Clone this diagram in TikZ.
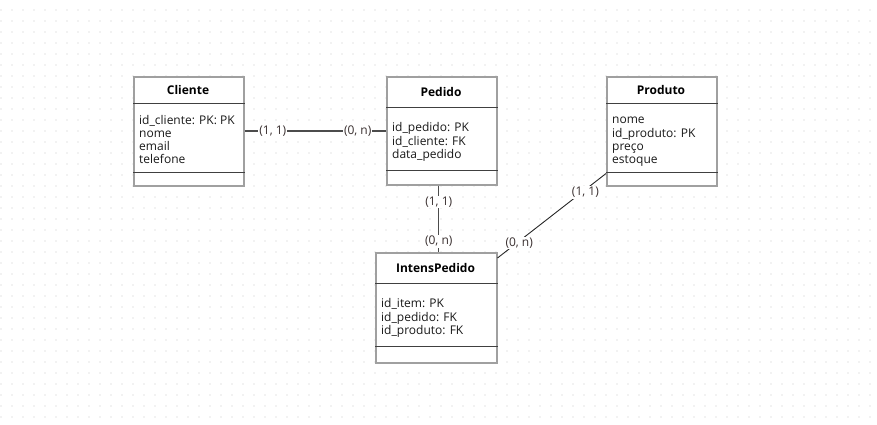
\documentclass[tikz,border=0pt]{standalone}
\usepackage{fontspec}
\setmainfont{Open Sans}
\usetikzlibrary{positioning}

\definecolor{boxgray}{HTML}{A0A0A0}
\definecolor{dotgray}{HTML}{C8C8C8}
\definecolor{sepgray}{HTML}{404040}
\definecolor{cardtext}{HTML}{3A3030}

\tikzset{
  entbox/.style={draw=boxgray, line width=1.5pt, fill=white, inner sep=0pt, anchor=north west},
  enttitle/.style={font=\bfseries\fontsize{12}{13}\selectfont},
  entattr/.style={font=\fontsize{12}{13}\selectfont, align=left, anchor=north west, inner sep=0pt, text=black!90},
  sepline/.style={draw=sepgray, line width=0.8pt},
  card/.style={font=\fontsize{12}{13}\selectfont, fill=white, inner sep=1pt, text=cardtext},
  rel/.style={draw=black!70, line width=1.2pt}
}

\begin{document}
\begin{tikzpicture}[x=1pt,y=-1pt]
\useasboundingbox (0,0) rectangle (877,424);
% dot grid
\foreach \x in {1,12,...,877} \foreach \y in {10,21,...,424} \fill[dotgray] (\x,\y) circle (0.6pt);

% Cliente
\node[entbox, minimum width=110pt, minimum height=109pt] (cliente) at (133,76) {};
\node[enttitle] (clienteT) at (188,90) {Cliente};
\draw[sepline] (cliente.west |- 0,103) -- (cliente.east |- 0,103);
\draw[sepline] (cliente.west |- 0,172) -- (cliente.east |- 0,172);
\node[entattr] (clienteA) at (139,115) {\strut id\_cliente: PK: PK\\nome\\email\\telefone};

% Pedido
\node[entbox, minimum width=110pt, minimum height=108pt] (pedido) at (386,76) {};
\node[enttitle] (pedidoT) at (441,92) {Pedido};
\draw[sepline] (pedido.west |- 0,107) -- (pedido.east |- 0,107);
\draw[sepline] (pedido.west |- 0,170) -- (pedido.east |- 0,170);
\node[entattr] (pedidoA) at (392,122) {\strut id\_pedido: PK\\id\_cliente: FK\\data\_pedido};

% Produto
\node[entbox, minimum width=110pt, minimum height=109pt] (produto) at (606,76) {};
\node[enttitle] (produtoT) at (661,90) {Produto};
\draw[sepline] (produto.west |- 0,103) -- (produto.east |- 0,103);
\draw[sepline] (produto.west |- 0,172) -- (produto.east |- 0,172);
\node[entattr] (produtoA) at (612,114) {\strut nome\\id\_produto: PK\\preço\\estoque};

% IntensPedido
\node[entbox, minimum width=121pt, minimum height=110pt] (intens) at (375,252) {};
\node[enttitle] (intensT) at (435.5,268) {IntensPedido};
\draw[sepline] (intens.west |- 0,283) -- (intens.east |- 0,283);
\draw[sepline] (intens.west |- 0,346) -- (intens.east |- 0,346);
\node[entattr] (intensA) at (381,298) {\strut id\_item: PK\\id\_pedido: FK\\id\_produto: FK};

% relationships
\draw[rel] (cliente.east |- 0,131) -- node[card, pos=0.2] {(1, 1)} node[card, pos=0.8] {(0, n)} (pedido.west |- 0,131);
\draw[rel] ([xshift=-3pt]pedido.south) -- node[card, pos=0.25] {(1, 1)} node[card, pos=0.84] {(0, n)} ([xshift=2.5pt]intens.north);
\draw[rel, line width=0.9pt, draw=black!85] ([yshift=-6pt]intens.north east) -- node[card, pos=0.2, yshift=-2pt] {(0, n)} node[card, pos=0.81, yshift=-3pt] {(1, 1)} ([yshift=13pt]produto.south west);
\end{tikzpicture}
\end{document}
